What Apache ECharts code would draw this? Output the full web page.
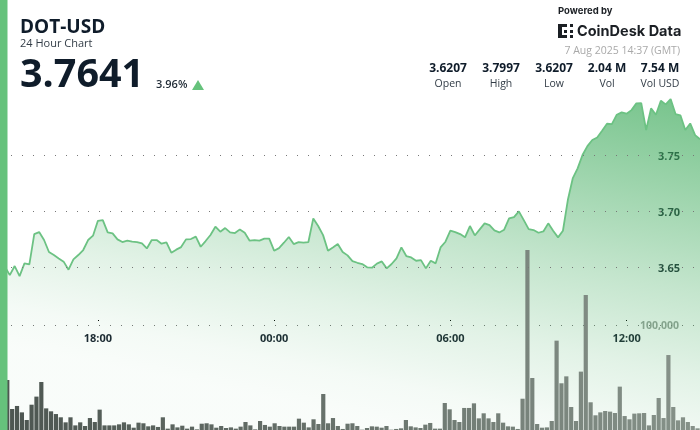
<!DOCTYPE html>
<html>
<head>
<meta charset="utf-8">
<style>
	html, body { margin: 0; padding: 0; background: #fff; }
	#chart { width: 700px; height: 430px; }
</style>
<script src="https://cdn.jsdelivr.net/npm/echarts@6/dist/echarts.min.js"></script>
</head>
<body>
<div id="chart"></div>
<script>
var prices = [3.6488, 3.6503, 3.6428, 3.6509, 3.6419, 3.6533, 3.6524, 3.6794, 3.6812, 3.6741, 3.6634, 3.6607,
	3.6577, 3.6548, 3.6476, 3.6568, 3.6607, 3.6652, 3.6741, 3.6780, 3.6913, 3.6919, 3.6809, 3.6800,
	3.6747, 3.6723, 3.6735, 3.6726, 3.6723, 3.6711, 3.6666, 3.6741, 3.6741, 3.6708, 3.6720, 3.6628,
	3.6655, 3.6678, 3.6747, 3.6750, 3.6771, 3.6681, 3.6732, 3.6786, 3.6860, 3.6815, 3.6848, 3.6809,
	3.6803, 3.6836, 3.6806, 3.6735, 3.6741, 3.6735, 3.6753, 3.6753, 3.6646, 3.6669, 3.6717, 3.6768,
	3.6705, 3.6723, 3.6717, 3.6723, 3.6934, 3.6866, 3.6785, 3.6646, 3.6675, 3.6705, 3.6634, 3.6604,
	3.6553, 3.6538, 3.6527, 3.6497, 3.6494, 3.6530, 3.6550, 3.6488, 3.6527, 3.6577, 3.6675, 3.6598,
	3.6586, 3.6556, 3.6562, 3.6488, 3.6556, 3.6533, 3.6675, 3.6726, 3.6824, 3.6812, 3.6794, 3.6765,
	3.6866, 3.6782, 3.6836, 3.6890, 3.6875, 3.6827, 3.6809, 3.6833, 3.6934, 3.6946, 3.6997, 3.6919,
	3.6839, 3.6830, 3.6806, 3.6818, 3.6890, 3.6824, 3.6765, 3.6824, 3.7098, 3.7291, 3.7381, 3.7500,
	3.7580, 3.7634, 3.7657, 3.7717, 3.7779, 3.7776, 3.7860, 3.7881, 3.7869, 3.7901, 3.7961, 3.7964,
	3.7723, 3.7916, 3.7860, 3.7985, 3.7952, 3.8000, 3.7866, 3.7854, 3.7723, 3.7782, 3.7678, 3.7641];

var volumes = [19000, 47600, 20000, 22900, 16800, 9500, 24100, 31800, 45700, 20600, 17800, 15200,
	12100, 7300, 12100, 4400, 7300, 3800, 11400, 7600, 19400, 4400, 4400, 4400,
	5400, 7300, 5400, 2200, 7000, 6400, 3500, 4400, 2900, 12100, 1300, 5400,
	2500, 4100, 1300, 3200, 600, 6000, 6400, 5400, 2200, 3800, 1900, 2500,
	1300, 3200, 7600, 4400, 600, 8600, 4800, 3200, 6400, 3800, 3200, 3200,
	3200, 10800, 7000, 2500, 10200, 5700, 34300, 6400, 11400, 3800, 1000, 6000,
	6400, 3800, 300, 1900, 3500, 3200, 2200, 3800, 300, 1000, 1600, 9500,
	3500, 2500, 1900, 5100, 6700, 1300, 1300, 25700, 19700, 9500, 7600, 21000,
	21000, 25400, 11100, 15900, 11100, 7600, 15900, 7000, 3500, 3200, 1000, 29800,
	171500, 49500, 5700, 2200, 2500, 8600, 85100, 44500, 51100, 21900, 8600, 55600,
	128600, 26400, 14000, 16800, 18100, 17500, 16200, 41300, 13300, 10200, 15600, 15900,
	16200, 4400, 14300, 30500, 11400, 71400, 21900, 9200, 12100, 7600, 3800, 1600];

var timeTicks = ['18:00', '00:00', '06:00', '12:00'];
var priceTicks = [3.65, 3.70, 3.75];
var volumeTicks = [100000];
var stats = [
	['3.6207', 'Open'],
	['3.7997', 'High'],
	['3.6207', 'Low'],
	['2.04 M', 'Vol'],
	['7.54 M', 'Vol USD']
];

// ten minute slots, starting at 14:40
var times = [];
for(var i = 0; i < prices.length; i++) {
	var mins = (14 * 60 + 40 + i * 10) % 1440;
	var h = Math.floor(mins / 60);
	var m = mins % 60;
	times.push((h < 10 ? '0' : '') + h + ':' + (m < 10 ? '0' : '') + m);
}

var FONT = '"Open Sans", sans-serif';
var LOGO_FONT = 'Inter, sans-serif';
var DARK = '#0f1c2a';

function isTimeTick(index, value) {
	return timeTicks.indexOf(value) >= 0;
}

function text(str, x, y, size, weight, color, align, family) {
	return {
		type: 'text',
		x: x,
		y: y,
		silent: true,
		style: {
			text: str,
			font: weight + ' ' + size + 'px ' + (family || FONT),
			fill: color,
			textAlign: align || 'left',
			textVerticalAlign: 'middle'
		}
	};
}

function square(x, y, w, h) {
	return {
		type: 'rect',
		silent: true,
		shape: { x: x, y: y, width: w, height: h },
		style: { fill: '#1b1f24' }
	};
}

var overlay = [
	{
		type: 'rect',
		silent: true,
		z: 50,
		shape: { x: 0, y: 0, width: 7.5, height: 430 },
		style: { fill: '#66c27c' }
	},
	text('DOT-USD', 20, 28, 19, 'bold', DARK),
	text('24 Hour Chart', 20, 44, 11, 'normal', '#333d47'),
	text('3.7641', 20, 76, 39.5, 'bold', DARK),
	text('3.96%', 156, 85, 11, '600', '#1f2a35'),
	{
		type: 'polygon',
		silent: true,
		shape: { points: [[198, 80], [204, 90], [192, 90]] },
		style: { fill: '#66c27c' }
	},
	text('Powered by', 558, 11, 9.5, 'bold', '#1b1f24', 'left', LOGO_FONT),
	square(558, 24, 4, 14),
	square(562, 24, 5, 3),
	square(562, 35, 5, 3),
	square(564, 30, 3, 3),
	square(570, 24, 3, 3),
	square(570, 30, 3, 3),
	square(570, 35, 3, 3),
	text('CoinDesk Data', 577, 31.5, 14.5, 'bold', '#1b1f24', 'left', LOGO_FONT),
	text('7 Aug 2025 14:37 (GMT)', 680, 51.5, 10.5, 'normal', '#a9a9a9', 'right')
];

var statX = [448, 501, 554, 607, 660];
for(var s = 0; s < stats.length; s++) {
	overlay.push(text(stats[s][0], statX[s], 69, 12, 'bold', DARK, 'center'));
	overlay.push(text(stats[s][1], statX[s], 84, 10.5, 'normal', '#333d47', 'center'));
}

var dotted = { color: '#777', width: 1, type: [1, 10] };

var option = {
	animation: false,
	backgroundColor: '#fff',
	grid: { left: 0, right: 0, top: 0, bottom: 0 },
	xAxis: [{
		type: 'category',
		data: times,
		boundaryGap: false,
		offset: -110,
		axisLine: { show: false },
		axisTick: { show: true, length: 1, interval: isTimeTick, lineStyle: { color: '#000' } },
		axisLabel: {
			interval: isTimeTick,
			margin: 13,
			color: '#1a2430',
			fontFamily: FONT,
			fontWeight: 'bold',
			fontSize: 11
		}
	}, {
		type: 'category',
		data: times,
		boundaryGap: true,
		show: false
	}],
	yAxis: [{
		type: 'value',
		position: 'right',
		min: 3.5045,
		max: 3.8884,
		splitLine: { show: false },
		axisLine: { show: false },
		axisTick: { show: false },
		axisLabel: {
			inside: true,
			margin: 20,
			verticalAlign: 'top',
			lineHeight: 3,
			customValues: priceTicks,
			formatter: function(v) { return v.toFixed(2); },
			color: '#1a2430',
			fontFamily: FONT,
			fontWeight: 'bold',
			fontSize: 11
		}
	}, {
		type: 'value',
		position: 'right',
		min: 0,
		max: 409524,
		splitLine: { show: false },
		axisLine: { show: false },
		axisTick: { show: false },
		axisLabel: {
			inside: true,
			margin: 21,
			verticalAlign: 'top',
			lineHeight: 3,
			customValues: volumeTicks,
			formatter: function(v) { return v.toLocaleString('en-US'); },
			color: '#9aa29c',
			fontFamily: FONT,
			fontWeight: 'bold',
			fontSize: 10.5
		}
	}],
	series: [{
		type: 'line',
		xAxisIndex: 0,
		yAxisIndex: 0,
		data: prices,
		z: 2,
		symbol: 'none',
		lineStyle: { color: '#6cc283', width: 1.8 },
		areaStyle: {
			origin: 'start',
			opacity: 1,
			color: new echarts.graphic.LinearGradient(700, 100, 625, 470, [
				{ offset: 0, color: 'rgba(60,170,90,0.70)' },
				{ offset: 0.5, color: 'rgba(60,170,90,0.30)' },
				{ offset: 0.72, color: 'rgba(60,170,90,0.15)' },
				{ offset: 0.9, color: 'rgba(60,170,90,0.055)' },
				{ offset: 1, color: 'rgba(60,170,90,0.03)' }
			], true)
		},
		markLine: {
			silent: true,
			symbol: 'none',
			label: { show: false },
			lineStyle: dotted,
			data: priceTicks.map(function(v) { return { yAxis: v }; })
		}
	}, {
		type: 'bar',
		xAxisIndex: 1,
		yAxisIndex: 1,
		data: volumes,
		z: 3,
		barWidth: 4.2,
		itemStyle: {
			color: new echarts.graphic.LinearGradient(700, 250, 0, 430, [
				{ offset: 0, color: '#8a968d' },
				{ offset: 1, color: '#4c5550' }
			], true)
		},
		markLine: {
			silent: true,
			symbol: 'none',
			z: 1,
			label: { show: false },
			lineStyle: dotted,
			data: volumeTicks.map(function(v) { return { yAxis: v }; })
		}
	}],
	graphic: overlay
};

var eChart = echarts.init(document.getElementById('chart'));
eChart.setOption(option);
</script>
</body>
</html>
